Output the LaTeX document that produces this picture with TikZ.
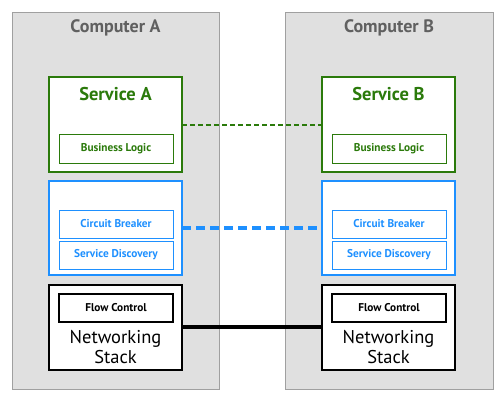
\documentclass[tikz,border=0pt]{standalone}
\usepackage{fontspec}
\setmainfont{PT Sans}
\definecolor{svcgreen}{HTML}{2B7A0B}
\definecolor{svcblue}{HTML}{1E90FF}
\definecolor{compfill}{HTML}{E0E0E0}
\definecolor{compline}{HTML}{A0A0A0}
\definecolor{comptext}{HTML}{606060}
\begin{document}
\begin{tikzpicture}[x=1pt,y=-1pt,
  comp/.style={draw=compline,fill=compfill,line width=1pt},
  outerbox/.style={fill=white,line width=1.8pt},
  innerbox/.style={fill=white,line width=0.9pt,font=\fontsize{11.3}{13}\selectfont\bfseries},
  comptitle/.style={font=\fontsize{18}{21}\selectfont\bfseries,text=comptext},
  svctitle/.style={font=\fontsize{18.5}{21}\selectfont\bfseries,text=svcgreen}]
\useasboundingbox (0,0) rectangle (504,400);
\fill[white] (0,0) rectangle (504,400);
% computers
\draw[comp] (12,12) rectangle (219,389);
\draw[comp] (285,12) rectangle (493,389);
\node[comptitle] (ta) at (115.5,28) {Computer A};
\node[comptitle] (tb) at (389,28) {Computer B};
% service boxes
\draw[outerbox,draw=svcgreen] (49,77) rectangle (182,172);
\draw[outerbox,draw=svcgreen] (322,77) rectangle (455,172);
\coordinate (sa) at (182,125);
\coordinate (sb) at (322,125);
\node[svctitle] (sta) at (115.5,94) {Service A};
\node[svctitle] (stb) at (388.5,94) {Service B};
\node[innerbox,draw=svcgreen,text=svcgreen,minimum width=114pt,minimum height=29pt] (bla) at (116,148.5) {Business Logic};
\node[innerbox,draw=svcgreen,text=svcgreen,minimum width=114pt,minimum height=29pt] (blb) at (389,148.5) {Business Logic};
% sidecar boxes
\draw[outerbox,draw=svcblue] (49,181) rectangle (182,275);
\draw[outerbox,draw=svcblue] (322,181) rectangle (455,275);
\coordinate (ca) at (182,228);
\coordinate (cb) at (322,228);
\node[innerbox,draw=svcblue,text=svcblue,minimum width=114pt,minimum height=28pt] (cba) at (116,224) {Circuit Breaker};
\node[innerbox,draw=svcblue,text=svcblue,minimum width=114pt,minimum height=28pt] (sda) at (116,255) {Service Discovery};
\node[innerbox,draw=svcblue,text=svcblue,minimum width=114pt,minimum height=28pt] (cbb) at (389,224) {Circuit Breaker};
\node[innerbox,draw=svcblue,text=svcblue,minimum width=114pt,minimum height=28pt] (sdb) at (389,255) {Service Discovery};
% networking
\draw[fill=white,draw=black,line width=1.2pt] (49,285) rectangle (182,370);
\draw[fill=white,draw=black,line width=1.2pt] (322,285) rectangle (455,370);
\coordinate (na) at (182,327);
\coordinate (nb) at (322,327);
\node[innerbox,draw=black,text=black,minimum width=114pt,minimum height=28pt,line width=1.1pt] (fca) at (116,308) {Flow Control};
\node[innerbox,draw=black,text=black,minimum width=114pt,minimum height=28pt,line width=1.1pt] (fcb) at (389,308) {Flow Control};
\node[font=\fontsize{18.5}{20}\selectfont,align=center] (nsa) at (115.5,347) {Networking\\Stack};
\node[font=\fontsize{18.5}{20}\selectfont,align=center] (nsb) at (388.5,347) {Networking\\Stack};
% connectors
\draw[svcgreen,line width=1.5pt,dash pattern=on 5pt off 3pt] (sa) -- (sb);
\draw[svcblue,line width=3.5pt,dash pattern=on 9pt off 5pt] (ca) -- (cb);
\draw[black,line width=4pt] (na) -- (nb);
\end{tikzpicture}
\end{document}
